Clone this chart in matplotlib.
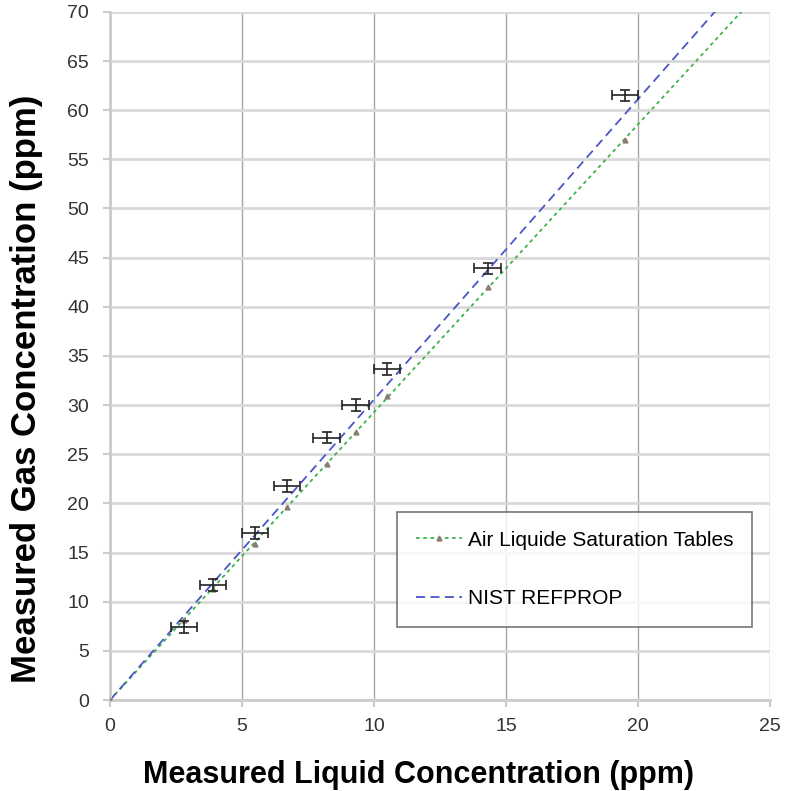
import numpy as np
import matplotlib.pyplot as plt

plt.rcParams['font.family'] = ['Liberation Sans', 'DejaVu Sans']

# measured points (liquid vs gas, ppm) with error bars
meas_x = [2.8, 3.9, 5.5, 6.7, 8.2, 9.3, 10.5, 14.3, 19.5]
meas_y = [7.4, 11.7, 17.0, 21.8, 26.7, 30.0, 33.7, 43.9, 61.5]
meas_xerr = [0.5, 0.5, 0.5, 0.5, 0.5, 0.5, 0.5, 0.5, 0.5]
meas_yerr = [0.6, 0.6, 0.6, 0.6, 0.6, 0.6, 0.6, 0.6, 0.6]

# Air Liquide saturation table points
al_x = [0, 2.8, 3.9, 5.5, 6.7, 8.2, 9.3, 10.5, 14.3, 19.5]
al_y = [0, 8.1, 11.3, 15.9, 19.6, 24.0, 27.3, 30.9, 42.0, 57.0]
al_line_x = [0, 25]
al_line_y = [0, 73.2]

# NIST REFPROP line
nist_x = [0, 25]
nist_y = [0, 76.4]

fig = plt.figure(figsize=(7.86, 7.91), dpi=100)
ax = fig.add_axes([0.14, 0.115, 0.8397, 0.87])

ax.grid(axis='y', color='#d9d9d9', linewidth=2, zorder=0)
ax.grid(axis='x', color='#a6a6a6', linewidth=1, zorder=0)

ax.plot(al_line_x, al_line_y, color='#3cb44b', linestyle=(0, (2, 2)), linewidth=1.3, zorder=2)
ax.plot(al_x, al_y, linestyle='none', marker='^', markersize=3.5, color='#8c7b70', zorder=3)
ax.plot(nist_x, nist_y, color='#4a55c8', linestyle=(0, (5, 3)), linewidth=1.3, zorder=2)

# legend handles
ax.plot([], [], color='#3cb44b', linestyle=(0, (2, 2)), linewidth=1.3,
        marker='^', markersize=3.5, markerfacecolor='#8c7b70', markeredgecolor='#8c7b70',
        label='Air Liquide Saturation Tables')
ax.plot([], [], color='#4a55c8', linestyle=(0, (5, 3)), linewidth=1.3, label='NIST REFPROP')

ax.errorbar(meas_x, meas_y, xerr=meas_xerr, yerr=meas_yerr, fmt='none',
            ecolor='#222222', elinewidth=1.2, capsize=3.5, capthick=1.2, zorder=4)

ax.set_xlim(0, 25)
ax.set_ylim(0, 70)
ax.set_xticks(np.arange(0, 26, 5))
ax.set_yticks(np.arange(0, 71, 5))
ax.tick_params(labelsize=14, length=5, color='#cccccc', width=1.5, labelcolor='#333333')
ax.tick_params(axis='y', pad=10)
ax.tick_params(axis='x', pad=8)

for s in ['top', 'right']:
    ax.spines[s].set_visible(False)
for s in ['left', 'bottom']:
    ax.spines[s].set_color('#cccccc')
    ax.spines[s].set_linewidth(2)

ax.set_xlabel('Measured Liquid Concentration (ppm)', fontsize=22, fontweight='bold')
ax.set_ylabel('Measured Gas Concentration (ppm)', fontsize=25, fontweight='bold')
ax.xaxis.set_label_coords(0.468, -0.087)
ax.yaxis.set_label_coords(-0.102, 0.452)

leg = ax.legend(loc='lower right', bbox_to_anchor=(0.989, 0.091), fontsize=15,
                frameon=True, fancybox=False, edgecolor='#555555', labelspacing=1.9,
                borderpad=0.9, handlelength=2.2, handletextpad=0.3)
leg.get_frame().set_linewidth(1.2)

plt.savefig('out.png', dpi=100)
